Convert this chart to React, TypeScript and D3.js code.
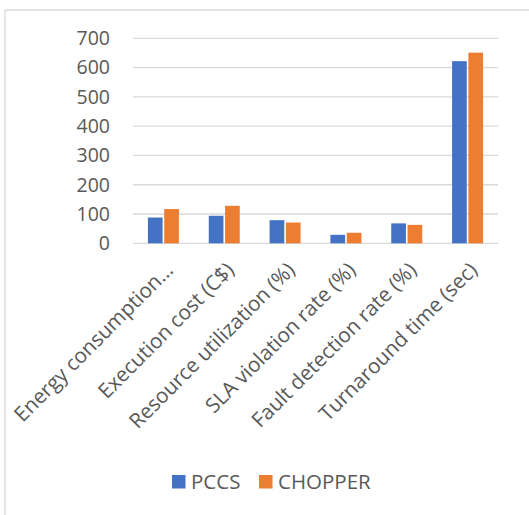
import React from "react";
import * as d3 from "d3";

const categories = [
  "Energy consumption…",
  "Execution cost (C$)",
  "Resource utilization (%)",
  "SLA violation rate (%)",
  "Fault detection rate (%)",
  "Turnaround time (sec)",
];
const seriesNames = ["PCCS", "CHOPPER"];
const pccs = [88, 94, 79, 29, 68, 622];
const chopper = [117, 128, 71, 36, 63, 651];
const yTicks = [0, 100, 200, 300, 400, 500, 600, 700];
const colors = ["#4472C4", "#ED7D31"];

export default function App() {
  const W = 529, H = 515;
  const left = 133, right = 498, top = 38.3, bottom = 243.3;
  const font = "'Open Sans', sans-serif";
  const x = d3.scaleBand<string>().domain(categories).range([left, right]);
  const y = d3.scaleLinear().domain([0, 700]).range([bottom, top]);
  const inner = d3.scaleBand<string>().domain(seriesNames).range([0, 31]).paddingInner(0.1);
  const values = [pccs, chopper];
  return (
    <svg width={W} height={H} style={{ position: "absolute", left: 0, top: 0, background: "#fff" }}>
      <line x1={5} y1={10} x2={W} y2={10} stroke="#d9d9d9" strokeWidth={1.3} />
      <line x1={5} y1={10} x2={5} y2={H} stroke="#d9d9d9" strokeWidth={1.3} />
      {yTicks.map((t) => (
        <g key={t}>
          <line x1={left} x2={right} y1={y(t)} y2={y(t)} stroke="#d9d9d9" strokeWidth={1.3} />
          <text x={110} y={y(t)} dy="0.35em" textAnchor="end" fontFamily={font} fontSize={19.5} fill="#595959">
            {t}
          </text>
        </g>
      ))}
      {categories.map((c, i) => {
        const cx = (x(c) as number) + x.bandwidth() / 2;
        return (
          <g key={c}>
            {values.map((vals, s) => (
              <rect
                key={s}
                x={cx - 15.5 + (inner(seriesNames[s]) as number)}
                y={y(vals[i])}
                width={inner.bandwidth()}
                height={bottom - y(vals[i])}
                fill={colors[s]}
              />
            ))}
            <text
              transform={`translate(${cx + 11},${bottom + 28}) rotate(-45)`}
              textAnchor="end"
              fontFamily={font}
              fontSize={20.7}
              fill="#595959"
            >
              {c}
            </text>
          </g>
        );
      })}
      {seriesNames.map((s, i) => {
        const lx = [172, 259][i];
        return (
          <g key={s}>
            <rect x={lx} y={475} width={13.5} height={13.5} fill={colors[i]} />
            <text x={lx + 19} y={489} fontFamily={font} fontSize={20.5} fill="#595959">
              {s}
            </text>
          </g>
        );
      })}
    </svg>
  );
}
